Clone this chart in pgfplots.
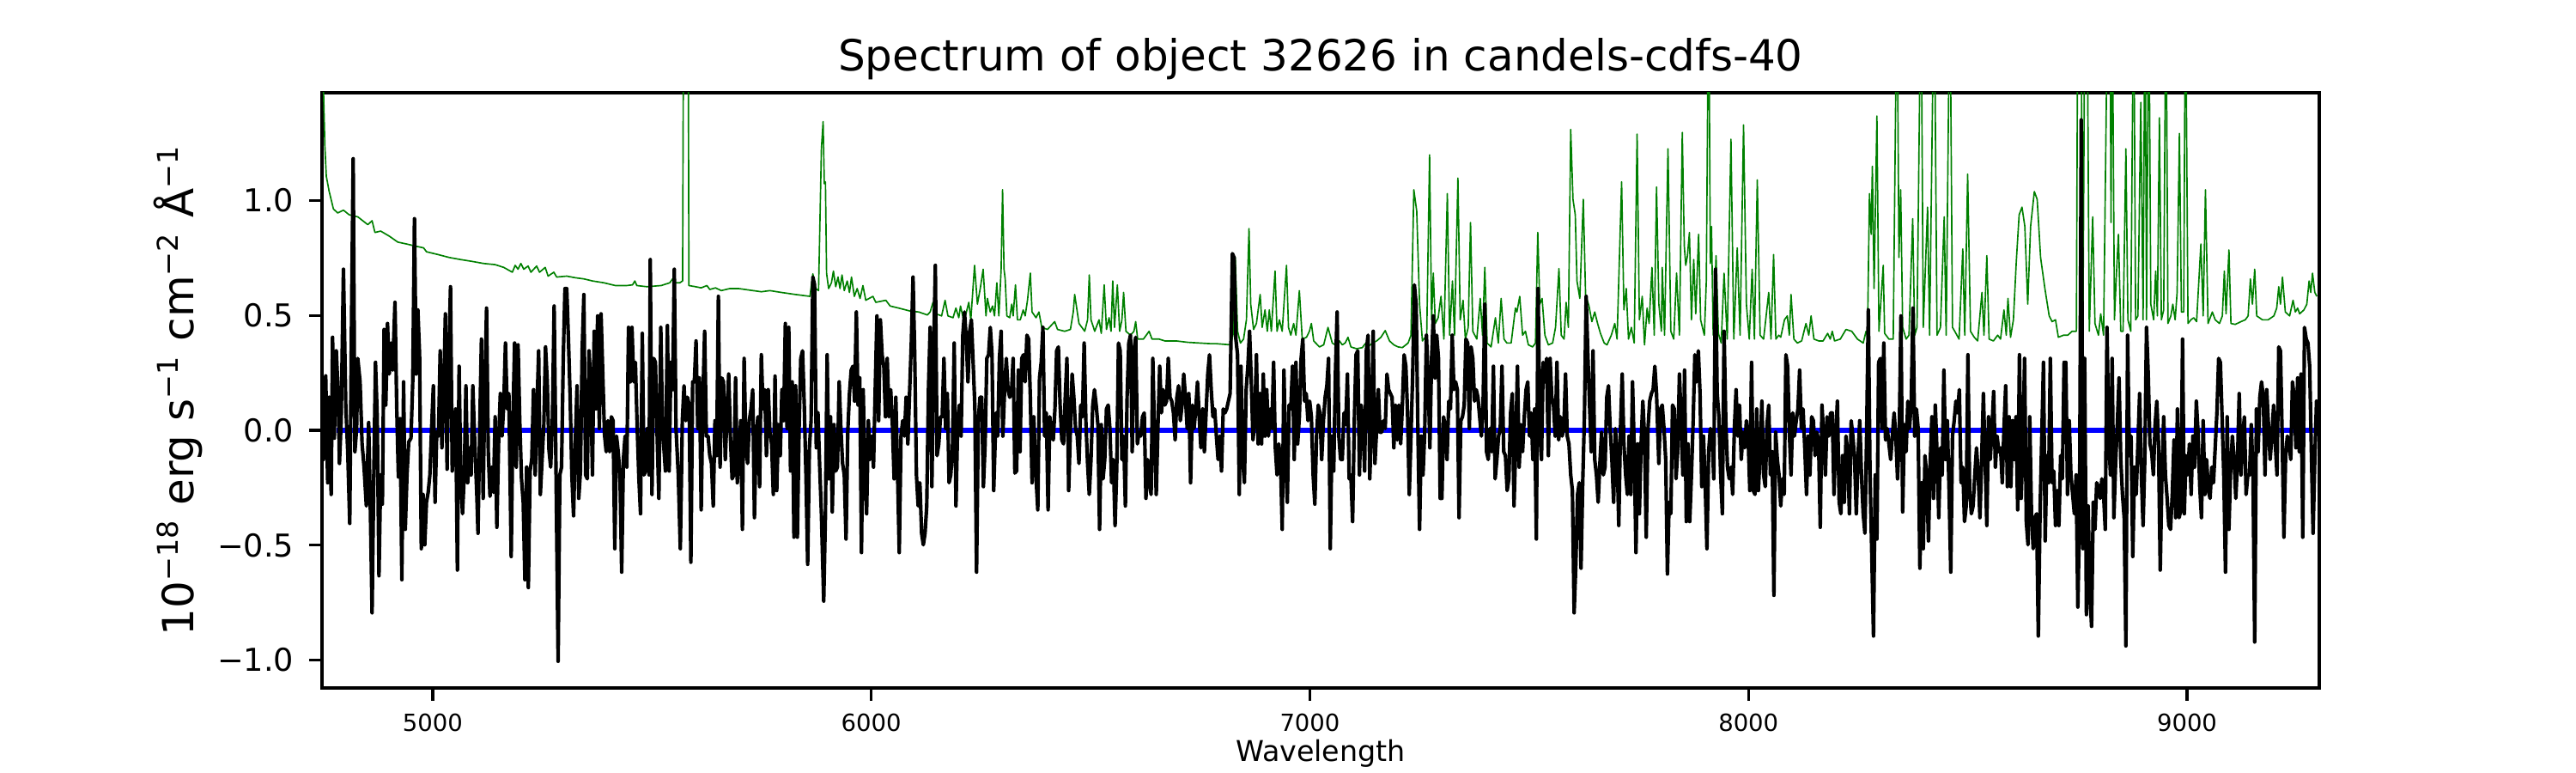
\documentclass[border=0pt]{standalone}
\usepackage{pgfplots}
\pgfplotsset{compat=1.18}
\usepackage{pgfplotstable}
\usepackage{fontspec}
\setmainfont{DejaVu Sans}
\definecolor{mplgreen}{RGB}{0,128,0}

\pgfplotstableread{
x y
4748.5 0.00
4750.8 -0.127
4756.0 0.237
4760.5 -0.228
4763.8 0.144
4768.4 -0.279
4771.6 0.405
4775.6 -0.034
4780.1 0.346
4784.7 0.144
4787.3 -0.144
4791.2 0.042
4796.4 0.701
4801.7 0.110
4806.2 -0.093
4810.8 -0.405
4814.7 0.448
4818.6 1.182
4822.5 -0.093
4826.5 0.008
4829.1 0.313
4834.3 0.211
4838.9 -0.059
4843.4 -0.160
4848.6 -0.329
4853.9 0.034
4857.8 -0.346
4861.7 -0.794
4865.6 -0.194
4869.5 0.296
4873.4 0.059
4877.4 -0.633
4881.3 -0.194
4885.2 -0.321
4889.1 0.439
4893.0 0.110
4896.9 0.465
4900.9 0.245
4904.8 0.380
4908.7 0.262
4913.9 0.557
4917.8 0.110
4921.7 -0.203
4925.6 0.051
4929.6 -0.650
4933.5 0.211
4937.4 -0.431
4941.3 -0.194
4945.2 -0.051
4950.4 -0.034
4954.4 0.211
4958.3 0.921
4962.2 0.245
4966.1 0.524
4970.0 0.329
4973.9 -0.515
4977.9 -0.279
4981.8 -0.498
4985.7 -0.313
4989.6 -0.270
4993.5 -0.194
4997.4 0.008
5001.4 0.194
5005.3 -0.313
5009.2 -0.008
5013.1 -0.025
5017.0 0.346
5020.9 -0.076
5024.8 0.144
5028.8 0.507
5032.7 -0.169
5036.6 0.313
5040.5 0.625
5044.4 -0.177
5048.3 -0.042
5052.3 0.093
5056.2 -0.608
5060.1 0.279
5064.0 -0.211
5067.9 -0.363
5071.8 -0.194
5075.7 0.194
5079.7 -0.228
5083.6 -0.076
5087.5 -0.194
5091.4 0.194
5095.3 -0.025
5100.5 -0.279
5103.2 -0.448
5107.1 0.008
5111.0 0.397
5114.9 -0.296
5118.8 0.186
5122.7 0.532
5126.6 -0.093
5130.6 -0.287
5134.5 -0.160
5138.4 -0.270
5142.3 0.059
5146.2 -0.422
5150.1 -0.059
5154.1 0.160
5158.0 -0.025
5161.9 0.110
5165.8 0.380
5169.7 0.093
5173.6 0.160
5178.9 -0.549
5182.8 0.042
5186.7 0.380
5190.6 -0.160
5194.5 0.372
5198.4 0.042
5202.4 -0.211
5206.3 -0.313
5210.2 -0.650
5214.1 -0.160
5218.0 -0.684
5221.9 -0.177
5225.8 -0.127
5229.8 0.177
5233.7 -0.194
5237.6 0.093
5241.5 0.346
5245.4 -0.279
5249.3 -0.127
5253.3 0.025
5257.2 0.363
5261.1 0.211
5265.0 -0.084
5268.9 -0.160
5272.8 0.042
5276.8 0.541
5280.7 -0.110
5285.9 -1.005
5289.8 -0.194
5293.7 -0.160
5297.6 0.313
5301.5 0.617
5305.5 0.617
5309.4 0.397
5313.3 0.144
5317.2 -0.194
5321.1 -0.372
5325.0 -0.059
5329.0 0.194
5332.9 -0.296
5336.8 -0.177
5340.7 0.346
5344.6 0.591
5348.5 -0.194
5352.5 -0.211
5356.4 0.346
5360.3 0.194
5364.2 -0.194
5368.1 0.431
5372.0 0.093
5376.0 0.498
5379.9 0.008
5383.8 0.507
5387.7 0.245
5391.6 -0.017
5395.5 -0.093
5399.4 0.042
5403.4 -0.093
5407.3 0.059
5411.2 0.042
5415.1 -0.515
5419.0 -0.025
5422.9 -0.093
5426.9 -0.194
5430.8 -0.617
5434.7 -0.127
5438.6 -0.025
5442.5 -0.160
5446.4 0.448
5450.4 0.211
5454.3 0.448
5458.2 0.211
5462.1 0.296
5466.0 0.025
5469.9 -0.203
5473.8 -0.363
5477.8 0.422
5481.7 -0.194
5485.6 -0.177
5489.5 0.008
5493.4 -0.194
5496.0 0.743
5499.9 -0.279
5503.8 0.313
5507.8 0.296
5511.7 -0.025
5515.6 -0.296
5520.0 0.448
5524.0 0.008
5530.6 -0.177
5535.1 0.456
5539.1 -0.177
5543.0 0.296
5546.9 0.177
5550.8 0.701
5554.7 0.008
5559.9 -0.194
5564.5 -0.515
5569.1 0.042
5573.0 0.194
5576.9 0.042
5580.8 0.144
5584.7 0.110
5588.6 -0.574
5592.6 0.211
5596.5 0.211
5600.4 0.389
5604.3 0.008
5608.2 0.228
5612.1 -0.346
5616.1 0.144
5620.0 0.431
5623.9 -0.025
5627.8 -0.025
5631.7 -0.110
5635.6 -0.144
5639.6 -0.329
5643.5 0.042
5647.4 -0.110
5651.3 0.583
5655.2 -0.160
5659.1 0.228
5663.0 0.211
5667.0 -0.127
5670.9 0.059
5674.8 0.245
5678.7 -0.025
5682.6 -0.211
5686.5 -0.194
5690.5 0.228
5694.4 -0.228
5698.3 -0.110
5702.2 0.042
5706.1 -0.431
5710.0 0.313
5714.0 -0.059
5717.9 -0.144
5721.8 0.042
5725.7 0.093
5729.6 0.177
5733.5 -0.380
5737.4 -0.025
5741.4 0.059
5745.3 -0.245
5749.2 0.329
5753.1 0.093
5757.0 0.177
5760.9 -0.110
5764.9 0.177
5768.8 -0.008
5772.7 -0.059
5776.6 -0.279
5780.5 0.236
5784.4 -0.262
5788.3 0.025
5792.3 -0.110
5796.2 0.177
5800.1 0.042
5804.0 0.465
5807.9 0.008
5811.8 0.448
5815.8 -0.177
5819.7 0.211
5823.6 -0.465
5827.5 0.194
5831.4 -0.465
5835.3 0.008
5839.2 0.313
5843.2 0.346
5847.1 0.110
5851.0 -0.194
5854.9 -0.583
5858.8 -0.076
5862.7 0.042
5866.7 0.667
5870.6 0.633
5874.5 -0.076
5878.4 0.076
5882.3 -0.160
5886.2 -0.363
5891.5 -0.743
5895.4 -0.363
5899.3 0.329
5903.2 -0.211
5907.1 0.059
5911.0 -0.355
5915.0 0.025
5918.9 -0.177
5922.8 -0.160
5926.7 0.211
5930.6 0.008
5934.5 -0.144
5938.4 -0.194
5942.4 -0.473
5946.3 -0.008
5950.2 0.160
5954.1 0.262
5958.0 0.279
5961.9 0.127
5965.9 0.515
5969.8 0.110
5973.7 0.228
5977.6 -0.532
5981.5 0.177
5985.4 -0.194
5989.3 -0.363
5993.3 0.042
5997.2 -0.127
6001.1 -0.025
6005.0 -0.160
6008.9 0.177
6012.8 0.498
6016.8 0.042
6020.7 0.481
6024.6 0.329
6028.5 0.279
6032.4 0.059
6036.3 0.313
6040.3 0.059
6044.2 0.177
6048.1 0.025
6052.0 -0.211
6055.9 0.144
6059.8 -0.177
6063.7 -0.532
6067.7 -0.025
6071.6 0.042
6075.5 -0.025
6079.4 0.144
6083.3 -0.059
6087.2 0.160
6091.2 0.380
6095.1 0.667
6099.0 0.329
6102.9 -0.194
6106.8 -0.329
6110.7 -0.228
6114.7 -0.448
6118.6 -0.498
6122.5 -0.448
6126.4 -0.329
6130.3 0.177
6134.2 0.448
6138.1 -0.245
6142.1 0.329
6146.0 0.718
6149.9 -0.110
6153.8 -0.059
6157.7 0.059
6161.6 0.059
6165.6 0.313
6169.5 0.008
6173.4 0.160
6177.3 -0.228
6181.2 -0.194
6185.1 -0.076
6189.0 0.380
6193.0 -0.329
6196.9 0.025
6200.8 0.110
6204.7 -0.025
6208.6 0.414
6212.5 0.515
6216.5 0.397
6220.4 0.211
6224.3 0.431
6228.2 0.481
6232.1 0.296
6236.0 0.110
6240.0 -0.617
6243.9 0.042
6247.8 0.144
6251.7 0.144
6255.6 -0.245
6259.5 -0.059
6263.4 0.313
6267.4 0.329
6271.3 0.448
6275.2 0.329
6279.1 -0.262
6284.3 0.076
6288.2 -0.025
6292.1 0.313
6296.0 0.431
6299.9 -0.025
6303.9 0.177
6307.8 0.313
6311.7 0.177
6315.6 0.144
6319.5 0.160
6323.4 0.313
6327.3 -0.186
6331.3 -0.177
6335.2 0.262
6339.1 -0.093
6343.0 0.313
6346.9 0.329
6350.8 0.211
6354.8 0.414
6358.7 0.397
6362.6 0.144
6366.5 -0.228
6370.4 0.059
6375.6 -0.203
6379.6 -0.346
6383.5 0.228
6387.4 0.296
6391.3 0.448
6395.2 -0.025
6399.1 0.076
6403.1 -0.346
6407.0 0.059
6410.9 -0.008
6414.8 -0.042
6418.7 0.093
6422.6 0.346
6426.5 0.363
6430.5 0.110
6434.4 -0.042
6438.3 -0.059
6442.2 0.144
6446.1 0.313
6450.0 -0.262
6454.0 0.008
6457.9 0.245
6461.8 0.144
6465.7 0.008
6469.6 -0.025
6473.5 -0.144
6477.5 0.110
6481.4 0.059
6485.3 0.380
6489.2 0.042
6493.1 -0.144
6497.0 -0.279
6500.9 -0.127
6504.9 0.110
6508.8 0.177
6512.7 0.110
6516.6 0.025
6520.5 -0.431
6524.4 0.025
6528.4 -0.211
6532.3 -0.127
6536.2 0.093
6540.1 0.110
6544.0 0.008
6547.9 -0.228
6551.8 -0.127
6555.8 -0.414
6559.7 -0.160
6563.6 0.380
6567.5 0.346
6571.4 -0.127
6575.3 -0.025
6579.3 -0.329
6583.2 0.144
6587.1 0.380
6591.0 0.414
6594.9 -0.093
6598.8 0.346
6602.8 0.405
6606.7 -0.059
6610.6 -0.008
6614.5 -0.025
6618.4 0.059
6622.3 0.076
6626.2 -0.296
6630.2 -0.127
6634.1 -0.228
6638.0 -0.279
6641.9 0.313
6645.8 -0.025
6649.7 -0.279
6653.7 0.025
6657.6 0.279
6661.5 0.076
6665.4 0.177
6669.3 0.110
6673.2 0.127
6677.1 0.313
6681.1 0.144
6685.0 0.127
6688.9 0.076
6692.8 -0.042
6696.7 0.144
6700.6 0.194
6704.6 0.042
6708.5 0.110
6712.4 0.245
6716.3 0.144
6720.2 0.008
6724.1 0.160
6728.0 -0.228
6732.0 0.110
6735.9 0.008
6739.8 0.093
6743.7 0.211
6747.6 0.059
6751.5 -0.076
6755.5 0.093
6759.4 -0.093
6763.3 0.076
6767.2 0.245
6771.1 0.329
6775.0 0.177
6779.0 0.059
6782.9 0.093
6786.8 -0.025
6790.7 -0.127
6794.6 -0.025
6798.5 -0.177
6802.4 0.093
6806.4 0.076
6810.3 0.093
6814.2 0.127
6818.1 0.160
6823.3 0.769
6827.2 0.752
6831.2 0.397
6835.1 0.329
6839.0 -0.279
6842.9 0.279
6846.8 -0.127
6850.7 -0.228
6854.7 0.177
6858.6 0.279
6862.5 0.431
6866.4 0.211
6870.3 -0.042
6874.2 0.042
6878.1 0.329
6882.1 -0.059
6886.0 0.160
6889.9 -0.059
6893.8 0.245
6897.7 -0.025
6901.6 0.177
6905.6 -0.025
6909.5 0.093
6913.4 0.008
6917.3 0.296
6921.2 -0.076
6925.1 -0.194
6929.0 -0.059
6933.0 -0.127
6936.9 -0.431
6940.8 0.262
6944.7 -0.127
6948.6 -0.313
6952.5 0.110
6956.5 0.093
6960.4 0.279
6964.3 -0.127
6968.2 0.296
6972.1 -0.059
6976.0 0.059
6980.0 0.313
6983.9 0.397
6987.8 0.127
6991.7 0.160
6995.6 0.042
6999.5 0.127
7003.4 0.059
7007.4 -0.194
7011.3 -0.321
7015.2 -0.025
7019.1 0.110
7023.0 0.076
7026.9 -0.127
7030.9 0.042
7034.8 0.144
7038.7 0.194
7042.6 0.313
7046.5 -0.515
7050.4 -0.025
7054.3 -0.177
7058.2 0.245
7062.1 0.515
7066.0 -0.025
7070.0 -0.127
7073.9 -0.127
7077.8 0.076
7081.7 0.025
7085.6 0.245
7089.5 -0.211
7093.5 -0.194
7097.4 -0.397
7101.3 0.042
7105.2 0.329
7109.1 0.346
7113.0 -0.194
7117.0 0.110
7120.9 0.025
7124.8 -0.177
7128.7 0.346
7132.6 0.414
7136.5 -0.211
7140.4 0.008
7144.4 0.431
7148.3 -0.144
7152.2 0.008
7156.1 0.177
7160.0 -0.008
7163.9 -0.008
7167.9 0.042
7171.8 0.008
7175.7 0.245
7179.6 0.177
7183.5 0.160
7187.4 0.144
7191.4 -0.076
7195.3 0.110
7199.2 -0.042
7203.1 0.110
7207.0 -0.059
7210.9 0.110
7214.8 0.329
7218.8 0.279
7222.7 0.076
7226.6 -0.279
7230.5 -0.025
7234.4 0.245
7238.3 0.633
7242.3 0.549
7246.2 0.008
7250.1 -0.431
7254.0 -0.025
7257.9 -0.194
7261.8 -0.008
7265.7 0.414
7269.7 0.228
7273.6 -0.076
7277.5 0.313
7281.4 0.498
7285.3 0.228
7289.2 0.414
7293.2 0.313
7297.1 -0.296
7301.0 -0.296
7304.9 0.059
7308.8 0.008
7312.7 -0.127
7316.7 0.127
7320.6 0.093
7324.5 0.414
7328.4 0.177
7332.3 0.211
7336.2 0.177
7340.1 -0.380
7344.1 0.042
7348.0 0.059
7351.9 0.110
7355.8 0.397
7359.7 0.380
7363.6 0.008
7367.6 0.363
7371.5 0.313
7375.4 0.127
7379.3 0.177
7383.2 0.144
7387.1 0.059
7391.0 -0.025
7395.0 0.127
7398.9 0.549
7402.8 -0.093
7406.7 -0.127
7410.6 0.008
7414.5 -0.093
7418.5 0.279
7422.4 -0.211
7426.3 -0.127
7430.2 -0.025
7434.1 0.008
7438.0 0.279
7442.0 -0.093
7445.9 -0.110
7449.8 -0.262
7453.7 -0.211
7457.6 0.076
7461.5 0.160
7465.4 -0.329
7469.4 -0.059
7473.3 0.279
7477.2 -0.160
7481.1 0.025
7485.0 -0.093
7488.9 0.059
7492.9 0.177
7496.8 0.211
7500.7 -0.025
7504.6 0.076
7508.5 -0.127
7512.4 0.093
7516.4 -0.473
7520.3 0.617
7524.2 0.042
7528.1 -0.127
7532.0 0.296
7535.9 0.211
7539.8 0.313
7543.8 -0.110
7547.7 0.313
7551.6 0.144
7555.5 0.110
7559.4 -0.025
7563.3 0.296
7567.3 -0.042
7571.2 0.059
7575.1 -0.025
7579.0 0.008
7582.9 0.245
7586.8 -0.025
7590.7 -0.059
7594.7 -0.194
7598.6 -0.262
7602.5 -0.794
7606.4 -0.583
7610.3 -0.279
7614.2 -0.228
7618.2 -0.600
7622.1 -0.228
7626.0 0.059
7629.9 0.583
7633.8 0.329
7637.7 0.110
7641.6 -0.093
7645.6 0.346
7649.5 -0.127
7653.4 -0.194
7657.3 -0.313
7661.2 -0.144
7665.1 -0.008
7669.1 -0.194
7673.0 -0.160
7676.9 0.144
7680.8 0.194
7684.7 0.008
7688.6 -0.127
7692.6 -0.313
7696.5 0.008
7700.4 -0.093
7704.3 -0.414
7708.2 0.008
7712.1 0.245
7716.0 -0.059
7720.0 -0.194
7723.9 -0.279
7727.8 -0.025
7731.7 -0.279
7735.6 0.211
7739.5 -0.076
7743.5 -0.532
7747.4 -0.059
7751.3 -0.363
7755.2 -0.059
7759.1 0.127
7763.0 -0.025
7766.9 -0.465
7770.9 0.008
7774.8 0.127
7778.7 0.160
7782.6 0.177
7786.5 0.279
7790.4 0.160
7795.6 -0.144
7799.5 0.093
7803.4 0.110
7807.4 0.008
7811.3 -0.127
7815.2 -0.625
7819.1 -0.313
7823.0 -0.363
7826.9 0.110
7830.9 0.093
7834.8 -0.211
7838.7 -0.093
7842.6 0.245
7846.5 0.042
7850.4 -0.194
7854.3 0.262
7858.3 -0.397
7862.2 -0.059
7866.1 -0.397
7870.0 -0.194
7873.9 0.042
7877.8 0.329
7881.8 0.211
7885.7 0.346
7889.6 0.160
7893.5 -0.245
7897.4 -0.025
7901.3 -0.228
7905.3 -0.515
7909.2 -0.093
7913.1 0.008
7917.0 -0.025
7920.9 -0.211
7924.8 0.701
7928.7 0.160
7932.7 0.059
7936.6 -0.194
7940.5 -0.363
7944.4 0.431
7948.3 0.042
7952.2 -0.160
7956.2 -0.211
7960.1 -0.160
7964.0 -0.279
7967.9 0.008
7971.8 0.177
7975.7 -0.025
7979.6 0.110
7983.6 -0.127
7987.5 -0.008
7991.4 -0.076
7995.3 0.042
7999.2 -0.025
8003.1 -0.262
8007.1 0.296
8011.0 -0.262
8014.9 -0.279
8018.8 0.093
8022.7 -0.262
8026.6 -0.093
8030.6 0.127
8034.5 -0.194
8038.4 -0.245
8042.3 0.025
8046.2 0.110
8050.1 -0.194
8054.0 -0.093
8058.0 -0.718
8061.9 -0.008
8065.8 -0.127
8069.7 -0.194
8073.6 -0.329
8077.5 -0.211
8081.5 -0.279
8085.4 0.329
8089.3 0.279
8093.2 -0.008
8097.1 -0.194
8101.0 0.076
8104.9 -0.025
8108.9 0.042
8112.8 0.093
8116.7 0.262
8120.6 0.008
8124.5 0.093
8128.4 -0.076
8132.4 -0.279
8136.3 -0.025
8140.2 -0.194
8144.1 0.059
8148.0 0.042
8151.9 -0.110
8155.8 -0.008
8159.8 -0.042
8163.7 -0.422
8167.6 0.110
8171.5 -0.025
8175.4 -0.194
8179.3 0.059
8183.3 -0.025
8187.2 0.076
8191.1 0.076
8195.0 -0.279
8198.9 -0.025
8202.8 0.127
8206.8 -0.313
8210.7 -0.363
8214.6 -0.110
8218.5 -0.313
8222.4 -0.025
8226.3 -0.093
8230.2 -0.363
8234.2 0.042
8238.1 -0.025
8242.0 -0.127
8245.9 -0.363
8249.8 -0.110
8253.7 0.042
8257.7 -0.194
8261.6 -0.363
8265.5 -0.448
8269.4 -0.025
8273.3 0.524
8277.2 -0.194
8281.1 -0.532
8285.1 -0.895
8289.0 -0.194
8292.9 -0.473
8296.8 0.296
8300.7 0.313
8304.6 0.008
8308.6 0.380
8312.5 -0.042
8316.4 0.008
8320.3 -0.059
8324.2 -0.127
8328.1 -0.025
8332.1 0.076
8336.0 -0.025
8339.9 -0.211
8343.8 -0.025
8347.7 0.498
8351.6 -0.355
8355.5 0.025
8359.5 -0.093
8363.4 0.127
8367.3 0.008
8371.2 0.127
8375.1 0.532
8379.0 -0.025
8383.0 0.093
8386.9 0.008
8390.8 -0.600
8394.7 -0.228
8398.6 -0.515
8402.5 -0.110
8406.4 -0.194
8410.4 -0.481
8414.3 -0.144
8418.2 0.059
8422.1 -0.296
8426.0 0.110
8429.9 -0.093
8433.9 -0.380
8437.8 -0.076
8441.7 -0.194
8445.6 0.262
8449.5 -0.127
8453.4 0.042
8457.4 -0.262
8461.3 -0.617
8465.2 -0.025
8469.1 0.042
8473.0 0.127
8476.9 0.076
8480.8 0.177
8484.8 -0.228
8488.7 -0.160
8492.6 -0.397
8496.5 -0.329
8500.4 0.329
8504.3 -0.262
8508.3 -0.363
8512.2 -0.329
8516.1 -0.194
8520.0 -0.076
8523.9 -0.194
8527.8 -0.380
8531.7 -0.127
8535.7 0.160
8539.6 -0.127
8543.5 -0.414
8547.4 0.059
8551.3 -0.127
8555.2 0.008
8559.1 0.169
8563.0 -0.160
8566.9 -0.025
8570.9 -0.093
8574.8 -0.076
8578.7 -0.228
8582.6 0.008
8586.5 0.194
8590.4 -0.245
8594.4 0.059
8598.3 -0.245
8602.2 0.042
8606.1 -0.127
8610.0 0.059
8613.9 -0.346
8617.9 0.329
8621.8 -0.296
8625.7 -0.076
8629.6 0.313
8633.5 -0.397
8637.4 -0.498
8641.3 0.059
8645.3 -0.363
8649.2 -0.515
8653.1 -0.380
8657.0 -0.363
8660.9 -0.895
8664.8 -0.363
8668.8 -0.025
8672.7 0.296
8676.6 -0.481
8680.5 -0.110
8684.4 -0.228
8688.3 0.313
8692.2 -0.228
8696.2 -0.177
8700.1 -0.414
8704.0 -0.262
8707.9 -0.414
8711.8 -0.110
8715.7 -0.211
8719.7 0.296
8723.6 0.296
8727.5 -0.279
8731.4 0.042
8735.3 -0.194
8739.2 -0.279
8743.1 -0.363
8747.1 -0.194
8751.0 -0.769
8754.9 -0.363
8758.8 1.351
8762.7 -0.515
8766.6 0.313
8770.6 -0.802
8774.5 -0.329
8778.4 -0.701
8782.3 -0.853
8786.2 -0.313
8790.1 -0.431
8794.0 -0.228
8798.0 -0.245
8801.9 -0.296
8805.8 -0.211
8809.7 -0.279
8813.6 -0.431
8817.5 0.448
8821.5 -0.025
8825.4 -0.194
8829.3 0.313
8833.2 -0.380
8837.1 -0.144
8841.0 0.025
8845.0 0.228
8848.9 -0.127
8852.8 -0.279
8856.7 -0.380
8860.6 -0.938
8864.5 0.414
8868.4 -0.110
8872.4 -0.025
8876.3 -0.549
8880.2 -0.160
8884.1 -0.279
8888.0 -0.059
8891.9 0.160
8895.9 -0.194
8899.8 -0.414
8903.7 -0.127
8907.6 0.448
8911.5 0.245
8915.4 -0.059
8919.3 -0.093
8923.3 -0.194
8927.2 0.025
8931.1 0.127
8935.0 -0.059
8938.9 -0.608
8942.8 -0.194
8946.8 0.059
8950.7 -0.194
8954.6 -0.296
8958.5 -0.414
8962.4 -0.431
8966.3 -0.279
8970.3 -0.042
8974.2 -0.380
8978.1 0.093
8982.0 -0.380
8985.9 -0.346
8989.8 0.397
8993.7 -0.363
8997.7 -0.110
9001.6 -0.194
9005.5 -0.059
9009.4 -0.279
9013.3 -0.025
9017.2 -0.160
9021.2 0.127
9025.1 -0.008
9029.0 -0.245
9032.9 -0.380
9036.8 0.042
9040.7 -0.279
9044.6 -0.127
9048.6 -0.262
9052.5 -0.296
9056.4 -0.160
9060.3 -0.228
9064.2 -0.076
9068.1 0.076
9072.1 0.313
9076.0 0.296
9079.9 0.059
9083.8 -0.194
9087.7 -0.617
9091.6 0.059
9095.5 -0.431
9099.5 -0.160
9103.4 -0.025
9107.3 -0.127
9111.2 -0.296
9115.1 -0.127
9119.0 0.160
9123.0 -0.194
9126.9 -0.025
9130.8 0.059
9134.7 -0.279
9138.6 -0.194
9142.5 -0.194
9146.5 0.025
9150.4 -0.194
9154.3 -0.921
9158.2 0.093
9162.1 -0.093
9166.0 0.144
9169.9 0.211
9173.9 0.144
9177.8 -0.194
9181.7 0.177
9185.6 0.025
9189.5 -0.127
9193.4 -0.025
9197.4 0.110
9201.3 -0.059
9205.2 -0.194
9209.1 0.363
9213.0 0.346
9216.9 -0.025
9220.9 -0.465
9224.8 -0.110
9228.7 -0.025
9232.6 -0.059
9236.5 -0.127
9240.4 0.211
9244.3 0.144
9248.3 -0.076
9252.2 0.228
9256.1 -0.093
9260.0 0.245
9263.9 -0.465
9267.8 0.448
9271.8 0.397
9275.7 0.380
9279.6 0.279
9283.5 -0.093
9287.4 -0.448
9291.3 -0.127
9295.2 0.127
9297.2 -0.025
}\blackdata

\pgfplotstableread{
x y
4748.0 2.50
4749.4 1.60
4754.0 1.240
4757.3 1.106
4763.8 1.040
4773.6 0.963
4783.4 0.946
4796.4 0.958
4809.5 0.938
4829.1 0.929
4851.9 0.895
4861.7 0.912
4868.2 0.861
4881.3 0.867
4900.9 0.845
4920.4 0.819
4940.0 0.811
4959.6 0.802
4979.2 0.794
4985.7 0.777
5011.8 0.765
5037.9 0.752
5064.0 0.743
5090.1 0.735
5116.2 0.726
5142.3 0.721
5161.9 0.709
5181.5 0.688
5188.0 0.718
5194.5 0.701
5201.0 0.726
5207.6 0.701
5217.4 0.715
5223.9 0.688
5236.9 0.715
5243.5 0.688
5256.5 0.709
5263.0 0.671
5276.1 0.688
5282.6 0.667
5305.5 0.671
5325.0 0.664
5344.6 0.659
5364.2 0.650
5390.3 0.642
5416.4 0.630
5442.5 0.630
5455.6 0.633
5460.8 0.650
5465.3 0.630
5488.2 0.625
5520.8 0.630
5540.4 0.642
5546.9 0.659
5553.4 0.642
5563.2 0.642
5569.7 0.650
5573.0 2.50
5577.6 3.00
5581.5 2.50
5584.1 0.630
5599.1 0.625
5612.1 0.620
5625.2 0.630
5631.7 0.613
5644.8 0.620
5657.8 0.608
5677.4 0.617
5697.0 0.617
5723.1 0.610
5749.2 0.603
5768.8 0.608
5794.9 0.600
5827.5 0.591
5860.1 0.583
5866.7 0.681
5873.2 0.617
5879.7 0.608
5886.2 1.225
5890.1 1.343
5892.8 1.073
5895.4 1.081
5898.0 0.684
5902.6 0.617
5909.1 0.642
5913.6 0.693
5918.9 0.625
5924.1 0.667
5928.6 0.617
5933.2 0.676
5938.4 0.608
5945.0 0.650
5950.2 0.600
5954.8 0.667
5961.3 0.583
5967.8 0.617
5974.3 0.574
5980.9 0.630
5987.4 0.566
6003.7 0.583
6010.2 0.557
6033.1 0.566
6042.9 0.541
6062.4 0.532
6088.5 0.519
6108.1 0.515
6127.7 0.502
6134.2 0.515
6140.7 0.557
6147.3 0.507
6160.3 0.498
6168.2 0.566
6174.7 0.498
6186.4 0.490
6192.9 0.532
6199.5 0.490
6203.4 0.541
6209.3 0.490
6215.8 0.507
6222.3 0.557
6226.9 0.481
6235.4 0.718
6241.9 0.549
6248.4 0.617
6255.0 0.701
6261.5 0.498
6264.7 0.574
6271.2 0.515
6276.4 0.541
6281.0 0.498
6286.2 0.642
6290.8 0.498
6296.0 0.701
6299.3 1.047
6302.6 0.701
6305.2 0.659
6309.1 0.498
6315.6 0.490
6320.2 0.549
6323.4 0.498
6328.7 0.633
6333.2 0.481
6339.7 0.481
6346.3 0.524
6350.8 0.498
6356.1 0.566
6362.6 0.684
6366.5 0.515
6375.6 0.490
6382.2 0.515
6388.7 0.448
6401.7 0.439
6418.1 0.473
6424.6 0.439
6440.9 0.431
6454.0 0.439
6460.5 0.515
6463.7 0.591
6467.0 0.549
6473.5 0.465
6486.6 0.431
6493.1 0.481
6497.0 0.676
6500.9 0.481
6509.4 0.431
6519.2 0.481
6524.4 0.422
6531.0 0.633
6536.2 0.439
6542.1 0.490
6546.6 0.431
6550.5 0.650
6554.5 0.448
6561.0 0.633
6566.2 0.431
6571.4 0.481
6575.3 0.600
6580.6 0.431
6591.0 0.414
6598.8 0.431
6602.8 0.473
6607.3 0.397
6620.4 0.397
6633.4 0.431
6640.0 0.397
6656.3 0.397
6669.3 0.389
6695.4 0.389
6721.5 0.383
6747.6 0.380
6773.7 0.377
6786.8 0.377
6819.4 0.372
6824.6 0.414
6829.8 0.752
6835.1 0.431
6841.6 0.380
6848.8 0.397
6855.3 0.481
6861.2 0.878
6865.1 0.549
6871.6 0.439
6878.1 0.465
6886.6 0.591
6891.2 0.448
6897.7 0.524
6902.9 0.431
6907.5 0.524
6912.1 0.431
6920.6 0.693
6925.1 0.431
6930.4 0.481
6936.9 0.431
6946.7 0.718
6951.2 0.448
6956.5 0.414
6963.0 0.465
6968.2 0.414
6976.0 0.608
6982.6 0.397
6992.3 0.405
6998.9 0.431
7003.4 0.465
7008.7 0.389
7021.7 0.363
7031.5 0.372
7041.3 0.448
7051.0 0.380
7057.6 0.372
7067.4 0.389
7073.9 0.372
7080.4 0.380
7086.9 0.405
7093.5 0.363
7106.5 0.355
7119.6 0.360
7126.1 0.377
7132.6 0.363
7142.4 0.380
7152.2 0.389
7162.0 0.405
7171.8 0.434
7181.6 0.389
7191.4 0.372
7201.1 0.363
7210.9 0.360
7224.0 0.380
7230.5 0.414
7237.0 1.047
7243.6 0.954
7250.1 0.549
7256.6 0.389
7266.4 0.414
7272.9 1.199
7277.5 0.481
7281.4 0.684
7286.0 0.465
7292.5 0.490
7299.0 0.583
7305.6 0.397
7313.4 1.030
7318.6 0.414
7325.1 0.650
7329.7 0.414
7337.5 1.098
7342.8 0.481
7349.3 0.566
7354.5 0.397
7361.0 0.448
7366.3 0.904
7371.5 0.431
7380.6 0.397
7388.4 0.574
7393.7 0.414
7398.9 0.709
7404.1 0.380
7413.2 0.363
7423.0 0.490
7429.6 0.380
7436.1 0.574
7442.6 0.397
7449.1 0.380
7458.9 0.380
7468.7 0.532
7472.0 0.515
7478.5 0.583
7485.0 0.414
7491.5 0.431
7498.1 0.372
7507.9 0.363
7514.4 0.380
7519.6 0.861
7524.2 0.549
7529.4 0.574
7535.9 0.414
7543.8 0.372
7553.5 0.380
7560.1 0.448
7567.9 0.704
7573.1 0.414
7579.6 0.397
7584.2 0.557
7589.4 0.448
7594.7 1.309
7599.9 1.005
7605.1 0.938
7609.0 0.650
7615.5 0.574
7623.4 1.005
7628.6 0.591
7636.4 0.541
7643.0 0.473
7649.5 0.515
7656.0 0.465
7662.5 0.422
7671.0 0.380
7677.5 0.372
7687.3 0.414
7695.2 0.465
7700.4 0.397
7710.8 1.081
7716.0 0.524
7721.3 0.617
7726.5 0.397
7733.0 0.448
7739.5 0.380
7746.1 1.289
7751.3 0.481
7757.8 0.583
7763.0 0.372
7768.9 0.532
7773.5 0.465
7780.0 0.709
7785.2 0.414
7790.4 1.059
7795.7 0.549
7801.5 0.431
7803.4 0.709
7808.7 0.414
7816.5 1.225
7823.0 0.431
7829.6 0.397
7836.1 0.684
7842.6 0.414
7849.1 1.296
7853.7 0.802
7857.0 0.718
7860.9 0.760
7865.4 0.861
7870.0 0.481
7875.2 0.743
7879.8 0.507
7886.3 0.853
7890.9 0.481
7899.4 0.414
7903.9 0.650
7909.2 2.00
7913.1 0.726
7915.7 0.887
7919.6 0.414
7926.1 0.760
7931.4 0.422
7937.9 0.380
7944.4 0.684
7951.6 0.397
7960.1 1.267
7966.6 0.397
7974.4 0.794
7980.9 0.414
7988.8 1.329
7995.3 0.549
8001.8 0.397
8008.4 0.701
8013.6 0.397
8020.1 1.090
8026.6 0.414
8034.5 0.397
8046.2 0.600
8051.4 0.397
8057.3 0.765
8062.5 0.397
8069.1 0.414
8073.6 0.405
8082.1 0.481
8088.6 0.498
8093.2 0.414
8097.1 0.591
8103.6 0.397
8111.5 0.380
8121.3 0.389
8131.1 0.465
8137.6 0.414
8142.8 0.498
8149.3 0.397
8160.4 0.389
8170.2 0.389
8180.6 0.422
8186.5 0.397
8191.1 0.431
8196.3 0.389
8209.4 0.397
8222.4 0.439
8235.5 0.431
8248.5 0.397
8261.6 0.380
8268.1 0.431
8271.4 0.414
8275.9 1.030
8279.8 0.853
8282.5 1.149
8286.4 0.617
8292.9 1.368
8297.5 0.431
8307.3 0.718
8310.5 0.422
8320.3 0.397
8330.1 0.397
8338.6 2.00
8343.1 0.752
8347.1 1.047
8351.6 0.448
8359.5 0.397
8366.0 0.414
8374.5 0.921
8379.0 0.414
8384.3 0.448
8393.4 2.00
8398.6 0.448
8408.4 0.971
8413.0 0.414
8423.4 2.00
8430.0 0.414
8437.8 0.448
8446.3 0.929
8450.8 0.414
8459.3 2.00
8465.2 0.448
8470.4 0.431
8480.2 0.397
8488.7 0.789
8493.2 0.414
8499.8 1.115
8506.3 0.431
8514.8 0.405
8522.6 0.389
8532.4 0.600
8537.0 0.414
8543.5 0.760
8548.7 0.397
8558.5 0.389
8568.3 0.414
8574.8 0.397
8582.6 0.524
8587.8 0.414
8591.7 0.574
8597.6 0.405
8604.1 0.481
8610.7 0.735
8617.2 0.938
8623.7 0.971
8630.2 0.887
8636.8 0.549
8643.3 0.887
8651.8 1.039
8658.3 1.005
8666.1 0.752
8675.9 0.617
8685.7 0.498
8692.2 0.473
8700.1 0.481
8706.6 0.405
8718.4 0.414
8728.1 0.414
8737.9 0.431
8747.7 0.431
8751.0 2.00
8757.5 2.00
8762.7 0.481
8767.3 2.00
8771.9 2.00
8777.1 0.431
8784.9 0.929
8790.1 0.465
8798.0 0.414
8803.2 0.507
8809.7 0.414
8819.5 2.00
8824.1 2.00
8826.7 0.904
8829.3 2.00
8834.5 0.481
8839.1 0.684
8843.6 0.853
8848.9 0.431
8854.1 0.431
8860.6 1.225
8865.2 0.481
8871.7 0.431
8878.2 2.00
8882.8 0.481
8888.0 0.498
8894.6 1.427
8899.8 0.481
8904.3 2.00
8907.6 0.481
8912.8 2.00
8917.4 0.549
8923.9 0.481
8928.5 0.693
8932.4 0.498
8937.0 1.360
8941.5 0.481
8946.8 0.524
8952.0 2.00
8956.5 0.465
8963.1 0.498
8967.6 0.549
8972.9 0.481
8977.4 0.600
8982.6 1.292
8987.2 0.515
8992.4 0.515
8996.4 2.00
9002.2 0.465
9008.8 0.481
9015.3 0.490
9021.8 0.473
9031.6 0.811
9036.8 0.498
9042.0 1.047
9047.9 0.465
9057.7 0.515
9064.2 0.481
9074.0 0.465
9080.5 0.498
9085.1 0.693
9089.0 0.507
9095.6 0.785
9100.1 0.465
9109.9 0.461
9123.0 0.473
9132.8 0.481
9139.3 0.498
9144.5 0.659
9149.1 0.549
9154.3 0.701
9158.9 0.498
9171.9 0.481
9185.0 0.481
9198.0 0.498
9204.5 0.532
9209.1 0.625
9213.0 0.549
9217.6 0.667
9224.1 0.515
9233.9 0.498
9241.7 0.566
9247.0 0.515
9252.2 0.532
9256.7 0.507
9266.5 0.524
9273.1 0.549
9278.3 0.650
9282.2 0.600
9286.1 0.684
9291.3 0.600
9295.9 0.583
}\greendata

\begin{document}
\begin{tikzpicture}
\useasboundingbox (0,0) rectangle (720pt,216pt);
\begin{axis}[
  at={(90pt,23.76pt)}, anchor=south west,
  scale only axis, width=558.24pt, height=166.32pt,
  xmin=4747.5, xmax=9301.5, ymin=-1.121, ymax=1.469,
  axis line style={line width=0.8pt},
  tick align=outside, tick pos=left,
  major tick length=3.5pt,
  tick style={line width=0.8pt, black},
  xtick={5000,6000,7000,8000,9000},
  xticklabels={5000,6000,7000,8000,9000},
  ytick={-1,-0.5,0,0.5,1},
  yticklabels={{−1.0},{−0.5},{0.0},{0.5},{1.0}},
  xticklabel style={anchor=base, inner sep=0pt, yshift=-8.7pt, font=\fontsize{6.6}{8}\selectfont},
  yticklabel style={anchor=east, inner sep=0pt, xshift=-4.2pt, font=\fontsize{8.8}{10}\selectfont},
  every axis title shift=0pt,
  title={Spectrum of object 32626 in candels-cdfs-40},
  title style={at={(axis description cs:0.5,1.0361)}, anchor=base, inner sep=0pt, font=\fontsize{12}{14}\selectfont},
  xlabel={Wavelength},
  xlabel style={at={(axis description cs:0.5,-0.1241)}, anchor=base, inner sep=0pt, font=\fontsize{8}{10}\selectfont},
  ylabel={10\textsuperscript{−18} erg s\textsuperscript{−1} cm\textsuperscript{−2} Å\textsuperscript{−1}},
  ylabel style={at={(axis description cs:-0.0641,0.5)}, anchor=base, inner sep=0pt, font=\fontsize{12}{14}\selectfont},
]
\addplot[mplgreen, line width=0.4pt, line join=round] table[x=x,y=y] {\greendata};
\addplot[blue, line width=1.3pt] coordinates {(4780,0) (9290,0)};
\addplot[black, line width=1.0pt, line join=round] table[x=x,y=y] {\blackdata};
\end{axis}
\end{tikzpicture}
\end{document}
